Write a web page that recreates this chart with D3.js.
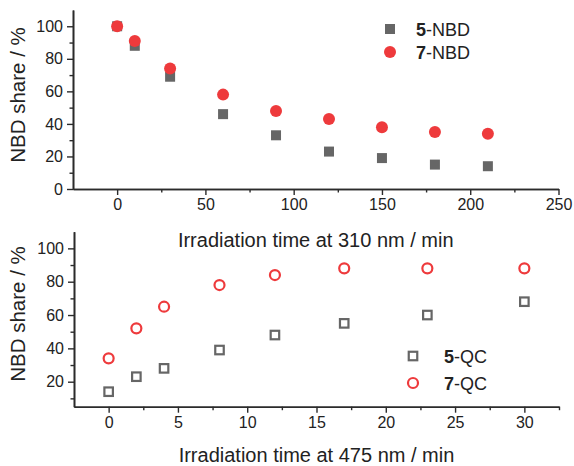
<!DOCTYPE html>
<html lang="en">
<head>
<meta charset="utf-8">
<title>NBD share</title>
<script src="https://cdn.jsdelivr.net/npm/d3@7"></script>
<style>
  body { margin: 0; background: #fff; }
  text { font-family: "Liberation Sans", Arial, sans-serif; fill: #222; }
</style>
</head>
<body>
<script>
// data
var timeNBD = [0, 10, 30, 60, 90, 120, 150, 180, 210];
var nbd5 = [100, 88, 69, 46, 33, 23, 19, 15, 14];
var nbd7 = [100, 91, 74, 58, 48, 43, 38, 35, 34];

var timeQC = [0, 2, 4, 8, 12, 17, 23, 30];
var qc5 = [14, 23, 28, 39, 48, 55, 60, 68];
var qc7 = [34, 52, 65, 78, 84, 88, 88, 88];

var topXTicks = [0, 50, 100, 150, 200, 250];
var topYTicks = [0, 20, 40, 60, 80, 100];
var botXTicks = [0, 5, 10, 15, 20, 25, 30];
var botYTicks = [20, 40, 60, 80, 100];

var grey = "#666666", red = "#ee3a3c", axisCol = "#2b2b2b";

var width = 574, height = 466;
var svg = d3.select("body").append("svg")
            .attr("width", width)
            .attr("height", height);

// top panel scales
var x1 = d3.scaleLinear().domain([-25, 250]).range([73, 558.5]);
var y1 = d3.scaleLinear().domain([0, 110]).range([189, 10]);
// bottom panel scales
var x2 = d3.scaleLinear().domain([-2.5, 32.5]).range([74, 559]);
var y2 = d3.scaleLinear().domain([5, 110]).range([406.7, 231.7]);

function drawAxes(x, y, xTicks, yTicks, xMinor, yMinor, xTitle, titleOff, yTitleY) {
  var xr = x.range(), yr = y.range();
  var gx = svg.append("g").attr("transform", "translate(0," + yr[0] + ")");
  gx.call(d3.axisBottom(x).tickValues(xTicks).tickSize(6).tickPadding(4).tickSizeOuter(0));
  gx.append("g").call(d3.axisBottom(x).tickValues(xMinor).tickSize(3.5).tickFormat("").tickSizeOuter(0));
  var gy = svg.append("g").attr("transform", "translate(" + xr[0] + ",0)");
  gy.call(d3.axisLeft(y).tickValues(yTicks).tickSize(6).tickPadding(4).tickSizeOuter(0));
  gy.append("g").call(d3.axisLeft(y).tickValues(yMinor).tickSize(3.5).tickFormat("").tickSizeOuter(0));

  svg.selectAll(".domain").attr("stroke", axisCol).attr("stroke-width", 1.6);
  svg.selectAll(".tick line").attr("stroke", axisCol).attr("stroke-width", 1.4);
  svg.selectAll(".tick text").attr("font-size", 16).attr("fill", "#222")
     .attr("font-family", "Liberation Sans, Arial, sans-serif");

  svg.append("text")
     .attr("x", (xr[0] + xr[1]) / 2)
     .attr("y", yr[0] + titleOff)
     .attr("text-anchor", "middle")
     .attr("font-size", 20)
     .text(xTitle);

  svg.append("text")
     .attr("transform", "translate(25," + yTitleY + ") rotate(-90)")
     .attr("text-anchor", "middle")
     .attr("font-size", 20.5)
     .text("NBD share / %");
}

drawAxes(x1, y1, topXTicks, topYTicks, [25, 75, 125, 175, 225],
         [10, 30, 50, 70, 90], "Irradiation time at 310 nm / min", 58, 95);
drawAxes(x2, y2, botXTicks, botYTicks, [2.5, 7.5, 12.5, 17.5, 22.5, 27.5, 32.5],
         [10, 30, 50, 70, 90], "Irradiation time at 475 nm / min", 55.5, 314);

// top panel markers (filled)
var sq = 10, r = 6;
svg.append("g").selectAll("rect")
   .data(timeNBD)
   .enter()
   .append("rect")
   .attr("x", function(d) { return x1(d) - sq / 2; })
   .attr("y", function(d, i) { return y1(nbd5[i]) - sq / 2; })
   .attr("width", sq).attr("height", sq)
   .attr("fill", grey);

svg.append("g").selectAll("circle")
   .data(timeNBD)
   .enter()
   .append("circle")
   .attr("cx", function(d) { return x1(d); })
   .attr("cy", function(d, i) { return y1(nbd7[i]); })
   .attr("r", r)
   .attr("fill", red);

// bottom panel markers (open)
var osq = 8.5, or = 5;
svg.append("g").selectAll("rect")
   .data(timeQC)
   .enter()
   .append("rect")
   .attr("x", function(d) { return x2(d) - osq / 2; })
   .attr("y", function(d, i) { return y2(qc5[i]) - osq / 2; })
   .attr("width", osq).attr("height", osq)
   .attr("fill", "none").attr("stroke", grey).attr("stroke-width", 2.2);

svg.append("g").selectAll("circle")
   .data(timeQC)
   .enter()
   .append("circle")
   .attr("cx", function(d) { return x2(d); })
   .attr("cy", function(d, i) { return y2(qc7[i]); })
   .attr("r", or)
   .attr("fill", "none").attr("stroke", red).attr("stroke-width", 2.2);

// legends
function legendLabel(x, y, num, rest) {
  var t = svg.append("text").attr("x", x).attr("y", y).attr("font-size", 18);
  t.append("tspan").attr("font-weight", "bold").text(num);
  t.append("tspan").text(rest);
}

svg.append("rect").attr("x", 390 - sq / 2).attr("y", 29 - sq / 2)
   .attr("width", sq).attr("height", sq).attr("fill", grey);
svg.append("circle").attr("cx", 390).attr("cy", 52).attr("r", r).attr("fill", red);
legendLabel(416, 35.5, "5", "-NBD");
legendLabel(416, 58.5, "7", "-NBD");

svg.append("rect").attr("x", 413 - osq / 2).attr("y", 356 - osq / 2)
   .attr("width", osq).attr("height", osq)
   .attr("fill", "none").attr("stroke", grey).attr("stroke-width", 2.2);
svg.append("circle").attr("cx", 413).attr("cy", 383).attr("r", or)
   .attr("fill", "none").attr("stroke", red).attr("stroke-width", 2.2);
legendLabel(444, 362.5, "5", "-QC");
legendLabel(444, 389.5, "7", "-QC");
</script>
</body>
</html>
